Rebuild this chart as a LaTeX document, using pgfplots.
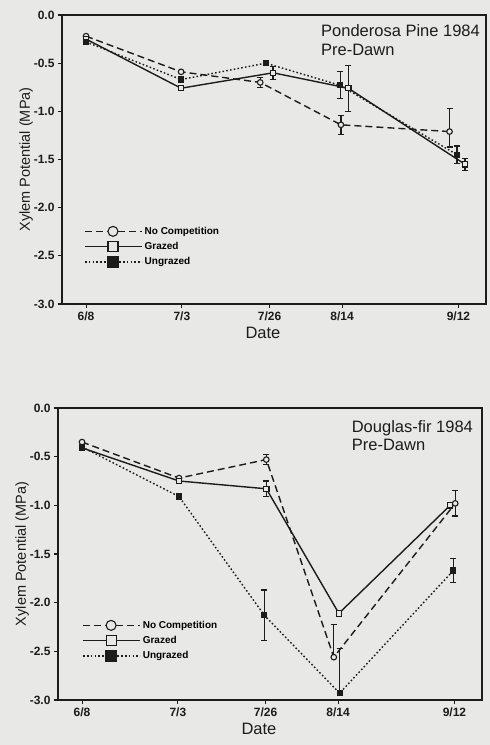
\documentclass[border=0pt]{standalone}
\usepackage{pgfplots}
\pgfplotsset{compat=1.18}
\usepackage{fontspec}
\setmainfont{Liberation Sans}
\definecolor{paper}{HTML}{E8E8E6}
\definecolor{ink}{HTML}{1C1C1C}

\pgfplotsset{
  panel/.style={
    scale only axis, width=424pt,
    xmin=-6.2, xmax=103.1, ymin=-3, ymax=0,
    xtick={0,24.7,47.3,66,96},
    xticklabels={6/8,7/3,7/26,8/14,9/12},
    ytick={-3,-2.5,-2,-1.5,-1,-0.5,0},
    tick align=outside, xtick pos=bottom, ytick pos=left,
    major tick length=4pt,
    axis line style={line width=1.3pt, ink},
    tick style={line width=1.1pt, ink},
    ticklabel style={font=\fontsize{12}{13}\selectfont\bfseries, ink},
    yticklabel style={/pgf/number format/fixed, /pgf/number format/fixed zerofill,
      /pgf/number format/precision=1},
    /pgf/number format/assume math mode=true,
    xlabel={Date}, ylabel={Xylem Potential (MPa)},
    label style={ink},
    xlabel style={font=\fontsize{16.5}{18}\selectfont, xshift=-11pt},
    ylabel style={font=\fontsize{14.5}{16}\selectfont, yshift=-6pt},
    legend cell align=left,
    legend style={draw=none, fill=none, font=\fontsize{10}{11}\selectfont\bfseries,
      anchor=north west, row sep=2.5pt,
      /tikz/every even column/.append style={column sep=7pt}},
    legend image code/.code={
      \draw[mark repeat=2, mark phase=2, #1, mark size=5pt]
        plot coordinates {(0pt,0pt) (28pt,0pt) (57pt,0pt)};},
  },
  nocomp/.style={ink, line width=1.4pt, dash pattern=on 7pt off 4pt,
    mark=*, mark size=2.8pt, mark options={solid, fill=paper, line width=1.1pt}},
  grazed/.style={ink, line width=1.4pt, solid,
    mark=square*, mark size=2.7pt, mark options={solid, fill=paper, line width=1.1pt}},
  ungrazed/.style={ink, line width=1.4pt, dash pattern=on 1.6pt off 2.2pt,
    mark=square*, mark size=2.4pt, mark options={solid, fill=ink}},
  ebars/.style={forget plot, only marks, mark=none,
    error bars/.cd, y dir=both, y explicit,
    error bar style={ink, line width=1.2pt, solid},
    error mark options={rotate=90, mark size=3pt, line width=1.1pt, ink}},
}

\begin{document}
\begin{tikzpicture}
\path[use as bounding box] (0,0) rectangle (490pt,745pt);
\fill[paper] (0,0) rectangle (490pt,745pt);

% Ponderosa pine
\begin{axis}[panel, at={(62pt,441pt)}, anchor=south west, height=289pt,
  legend style={at={(0.045,0.281)}}]
\addplot[ebars] coordinates {
  (44.9,-0.70) +- (0,0.05)
  (65.7,-1.14) +- (0,0.10)
  (93.7,-1.21) += (0,0.24) -= (0,0.16)
  (48.2,-0.60) +- (0,0.07)
  (67.6,-0.76) +- (0,0.24)
  (97.7,-1.55) +- (0,0.06)
  (65.5,-0.73) +- (0,0.14)
  (95.6,-1.45) +- (0,0.09)
};
\addplot[nocomp] coordinates {(0,-0.22) (24.5,-0.59) (44.9,-0.70) (65.7,-1.14) (93.7,-1.21)};
\addplot[grazed] coordinates {(0,-0.25) (24.5,-0.76) (48.2,-0.60) (67.6,-0.76) (97.7,-1.55)};
\addplot[ungrazed] coordinates {(0,-0.28) (24.5,-0.67) (46.3,-0.50) (65.5,-0.73) (95.6,-1.45)};
\legend{No Competition, Grazed, Ungrazed}
\node[anchor=north east, align=left, inner sep=0pt, ink,
  font=\fontsize{16.5}{19.5}\selectfont] at (rel axis cs:0.986,0.969)
  {Ponderosa Pine 1984\\Pre-Dawn};
\end{axis}

% Douglas-fir
\begin{axis}[panel, at={(58pt,45pt)}, anchor=south west, height=292pt,
  legend style={at={(0.05,0.285)}}]
\addplot[ebars] coordinates {
  (47.5,-0.53) +- (0,0.05)
  (64.9,-2.56) += (0,0.34) -= (0,0)
  (96.2,-0.98) +- (0,0.13)
  (47.5,-0.83) +- (0,0.08)
  (47.0,-2.13) +- (0,0.26)
  (66.4,-2.93) += (0,0.46) -= (0,0)
  (95.7,-1.67) +- (0,0.12)
};
\addplot[nocomp] coordinates {(0,-0.35) (25,-0.72) (47.5,-0.53) (64.9,-2.56) (96.2,-0.98)};
\addplot[grazed] coordinates {(0,-0.41) (25,-0.75) (47.5,-0.83) (66.2,-2.11) (94.9,-1.00)};
\addplot[ungrazed] coordinates {(0,-0.40) (25,-0.91) (47.0,-2.13) (66.4,-2.93) (95.7,-1.67)};
\legend{No Competition, Grazed, Ungrazed}
\node[anchor=north east, align=left, inner sep=0pt, ink,
  font=\fontsize{16.5}{18.5}\selectfont] at (rel axis cs:0.979,0.959)
  {Douglas-fir 1984\\Pre-Dawn};
\end{axis}
\end{tikzpicture}
\end{document}
